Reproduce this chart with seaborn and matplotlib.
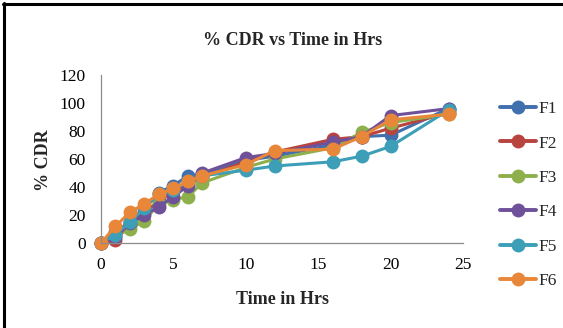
import numpy as np
import pandas as pd
import matplotlib
matplotlib.use("Agg")
import matplotlib.pyplot as plt
from matplotlib.lines import Line2D
import seaborn as sns

# Dissolution time points (hours)
time_hrs = [0, 1, 2, 3, 4, 5, 6, 7, 10, 12, 16, 18, 20, 24]

# Cumulative drug release (%) per formulation
f1 = [0, 8, 15, 25, 36, 41, 48, 49, 59, 62, 70, 76, 77, 96]
f2 = [0, 2, 13, 22, 30, 37, 42, 47, 58, 65, 74, 76, 82, 93]
f3 = [0, 5, 10, 16, 28, 31, 33, 43, 54, 60, 68, 79, 86, 92]
f4 = [0, 4, 14, 20, 26, 33, 41, 50, 61, 64, 72, 76, 91, 96]
f5 = [0, 6, 15, 25, 35, 38, 44, 48, 52, 55, 58, 62, 69, 95]
f6 = [0, 12, 22, 28, 35, 39, 44, 48, 56, 66, 67, 76, 88, 92]

series_names = ["F1", "F2", "F3", "F4", "F5", "F6"]
series_values = [f1, f2, f3, f4, f5, f6]
colors = ["#4070AE", "#B8433F", "#8DB04C", "#6F519A", "#3C9EB7", "#E8873A"]

x_ticks = [0, 5, 10, 15, 20, 25]
y_ticks = [0, 20, 40, 60, 80, 100, 120]

df = pd.DataFrame({
    "Time": np.tile(time_hrs, len(series_names)),
    "CDR": np.concatenate(series_values),
    "Formulation": np.repeat(series_names, len(time_hrs)),
})

sns.set_style("white")
plt.rcParams["font.family"] = ["Liberation Serif", "DejaVu Serif"]

W, H = 563, 328
fig = plt.figure(figsize=(W / 100, H / 100), dpi=100)
ax = fig.add_axes([101 / W, (H - 243) / H, (463 - 101) / W, 168 / H])

sns.lineplot(
    data=df, x="Time", y="CDR", hue="Formulation",
    palette=colors, marker="o", markersize=10, markeredgewidth=0,
    linewidth=2.2, ax=ax, legend=False, clip_on=False,
)

ax.set_xlim(0, 25)
ax.set_ylim(0, 120)
ax.set_xticks(x_ticks)
ax.set_yticks(y_ticks)
ax.tick_params(axis="both", length=0, labelsize=12.5, colors="black")
ax.tick_params(axis="y", pad=11)
ax.tick_params(axis="x", pad=10)
ax.set_xlabel("")
ax.set_ylabel("")
for side in ("top", "right"):
    ax.spines[side].set_visible(False)
for side in ("left", "bottom"):
    ax.spines[side].set_color("#8C8C8C")
    ax.spines[side].set_linewidth(0.9)

fig.text(293 / W, (H - 45) / H, "% CDR vs Time in Hrs", ha="center",
         va="baseline", fontsize=13, fontweight="bold")
fig.text(283 / W, (H - 304) / H, "Time in Hrs", ha="center",
         va="baseline", fontsize=13, fontweight="bold")
fig.text(43.5 / W, (H - 160) / H, "% CDR", ha="center", va="center",
         rotation=90, fontsize=13, fontweight="bold")

handles = [Line2D([], [], color=c, marker="o", markersize=10,
                  markeredgewidth=0, linewidth=2.8) for c in colors]
fig.legend(handles, series_names, loc="upper left",
           bbox_to_anchor=(500 / W, (H - 101) / H), frameon=False,
           fontsize=12.5, handlelength=2.07, handletextpad=0.12,
           labelspacing=1.05, borderpad=0, borderaxespad=0)

# Chart border on top and left edges
fig.add_artist(Line2D([3 / W, 1], [(H - 4) / H, (H - 4) / H],
                      transform=fig.transFigure, color="black", linewidth=2.2))
fig.add_artist(Line2D([4 / W, 4 / W], [0, (H - 3) / H],
                      transform=fig.transFigure, color="black", linewidth=2.2))

fig.savefig("out.png", dpi=100)
